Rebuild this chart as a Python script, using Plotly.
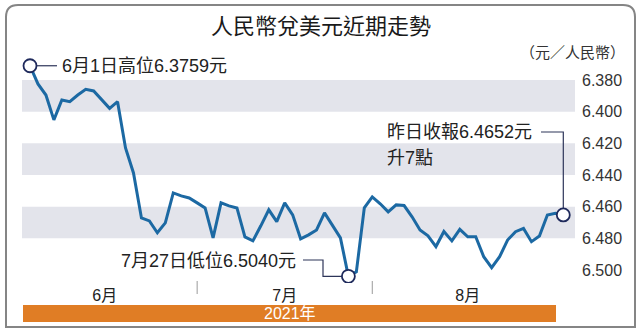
import plotly.graph_objects as go

# ---------------- data ----------------
trade_day = list(range(68))  # trading-day index, 1 Jun 2021 onward
rate = [6.3710, 6.3825, 6.3895, 6.4052, 6.3926, 6.3937, 6.3895, 6.3859, 6.3869, 6.3926,
        6.3979, 6.3937, 6.4229, 6.4387, 6.4671, 6.4690, 6.4765, 6.4702, 6.4513, 6.4532,
        6.4545, 6.4576, 6.4608, 6.4797, 6.4576, 6.4595, 6.4608, 6.4791, 6.4816, 6.4721,
        6.4620, 6.4694, 6.4576, 6.4652, 6.4803, 6.4778, 6.4747, 6.4639, 6.4715, 6.4797,
        6.5040, 6.5012, 6.4608, 6.4538, 6.4582, 6.4633, 6.4589, 6.4593, 6.4664, 6.4747,
        6.4784, 6.4852, 6.4757, 6.4816, 6.4743, 6.4790, 6.4790, 6.4916, 6.4985, 6.4916,
        6.4811, 6.4758, 6.4737, 6.4821, 6.4785, 6.4653, 6.4642, 6.4652]
month_labels = ["6月", "7月", "8月"]
month_start_day = [0, 21, 43]
month_label_pos = [9.4, 32.0, 55.0]
y_ticks = [6.380, 6.400, 6.420, 6.440, 6.460, 6.480, 6.500]
band_pairs = [(6.380, 6.400), (6.420, 6.440), (6.460, 6.480)]
year_label = "2021年"
title_text = "人民幣兌美元近期走勢"
unit_text = "（元／人民幣）"
hi_text = "6月1日高位6.3759元"
lo_text = "7月27日低位6.5040元"
last_text1 = "昨日收報6.4652元"
last_text2 = "升7點"

# ---------------- layout geometry ----------------
W, H = 641, 333
L, R, T, B = 22, 575, 40, 283
XR = [-1.005, 68.47]
YR_TOP, YR_BOT = 6.35474, 6.50821

def px(p):
    return (p - L) / (R - L)

def py(p):
    return (B - p) / (B - T)

def xval(p):
    return XR[0] + (p - L) / (R - L) * (XR[1] - XR[0])

def yval(p):
    return YR_TOP + (p - T) / (B - T) * (YR_BOT - YR_TOP)

CJK = "Liberation Sans, Noto Sans CJK TC, sans-serif"
LINE_C = "#1c69a3"
NAVY = "#1f2a5c"
ORANGE = "#e07d25"

i_min = rate.index(max(rate))
i_first, i_last = 0, len(rate) - 1

fig = go.Figure()
fig.add_trace(go.Scatter(x=trade_day, y=rate, mode="lines",
                         line=dict(color=LINE_C, width=3), hoverinfo="skip"))
fig.add_trace(go.Scatter(x=[trade_day[i] for i in (i_first, i_min, i_last)],
                         y=[rate[i] for i in (i_first, i_min, i_last)],
                         mode="markers",
                         marker=dict(size=13, color="white", line=dict(color=NAVY, width=1.8)),
                         hoverinfo="skip"))

shapes = []
for lo, hi in band_pairs:
    shapes.append(dict(type="rect", xref="paper", yref="y", x0=0, x1=1, y0=lo, y1=hi,
                       fillcolor="#e3e4eb", line=dict(width=0), layer="below"))
# connectors
cl = dict(color="#2d3559", width=1.2)
shapes.append(dict(type="line", xref="x", yref="y", x0=trade_day[i_first], y0=rate[i_first],
                   x1=xval(57), y1=rate[i_first], line=cl, layer="below"))
shapes.append(dict(type="path", xref="x", yref="y", layer="below", line=cl,
                   path=f"M {xval(303)} {yval(260)} L {xval(323)} {yval(260)} "
                        f"L {xval(323)} {rate[i_min]} L {trade_day[i_min]} {rate[i_min]}"))
shapes.append(dict(type="path", xref="x", yref="y", layer="below", line=cl,
                   path=f"M {xval(541)} {yval(132)} L {trade_day[i_last]} {yval(132)} "
                        f"L {trade_day[i_last]} {rate[i_last]}"))
# month separators
for d in month_start_day[1:]:
    shapes.append(dict(type="line", xref="x", yref="paper", x0=d, x1=d,
                       y0=py(281), y1=py(294), line=dict(color="#9a9a9a", width=1)))
# orange year bar
shapes.append(dict(type="rect", xref="paper", yref="paper", x0=px(23), x1=px(556),
                   y0=py(322), y1=py(305), fillcolor=ORANGE, line=dict(width=0)))
# outer border with rounded top corners
r = 12
x0, x1, y0, y1 = 6, 635, 5, 327
path = (f"M {px(x0)} {py(y1)} L {px(x0)} {py(y0 + r)} Q {px(x0)} {py(y0)} {px(x0 + r)} {py(y0)} "
        f"L {px(x1 - r)} {py(y0)} Q {px(x1)} {py(y0)} {px(x1)} {py(y0 + r)} "
        f"L {px(x1)} {py(y1)} Z")
shapes.append(dict(type="path", xref="paper", yref="paper", path=path,
                   line=dict(color="#858585", width=2)))

ann = []
ann.append(dict(text=title_text, xref="paper", yref="paper", x=px(321), y=py(27),
                xanchor="center", yanchor="middle", showarrow=False,
                font=dict(family=CJK, size=22, color="#1a1a1a")))
ann.append(dict(text=unit_text, xref="paper", yref="paper", x=px(627), y=py(52),
                xanchor="right", yanchor="middle", showarrow=False,
                font=dict(family=CJK, size=15, color="#333")))
ann.append(dict(text=hi_text, xref="paper", yref="y", x=px(60), y=rate[i_first],
                xanchor="left", yanchor="middle", showarrow=False,
                font=dict(family=CJK, size=18, color="#222")))
ann.append(dict(text=lo_text, xref="paper", yref="paper", x=px(298), y=py(261),
                xanchor="right", yanchor="middle", showarrow=False,
                font=dict(family=CJK, size=18, color="#222")))
ann.append(dict(text=last_text1, xref="paper", yref="paper", x=px(385), y=py(132),
                xanchor="left", yanchor="middle", showarrow=False,
                font=dict(family=CJK, size=18, color="#222")))
ann.append(dict(text=last_text2, xref="paper", yref="paper", x=px(385), y=py(158),
                xanchor="left", yanchor="middle", showarrow=False,
                font=dict(family=CJK, size=18, color="#222")))
ann.append(dict(text=year_label, xref="paper", yref="paper", x=px(289.5), y=py(313.5),
                xanchor="center", yanchor="middle", showarrow=False,
                font=dict(family=CJK, size=16, color="white")))

fig.update_layout(
    width=W, height=H,
    margin=dict(l=L, r=W - R, t=T, b=H - B),
    paper_bgcolor="white", plot_bgcolor="white",
    showlegend=False,
    shapes=shapes, annotations=ann,
    xaxis=dict(range=XR, showgrid=False, zeroline=False, showline=False,
               tickmode="array", tickvals=month_label_pos, ticktext=month_labels,
               ticks="", ticklabelstandoff=1,
               tickfont=dict(family=CJK, size=16, color="#222")),
    yaxis=dict(range=[YR_BOT, YR_TOP], side="right", showgrid=False, zeroline=False,
               showline=False, tickmode="array", tickvals=y_ticks,
               ticktext=[f"{v:.3f}" for v in y_ticks], ticks="", ticklabelstandoff=6,
               tickfont=dict(family="Liberation Sans, Arial, sans-serif", size=16, color="#333")),
)

fig.write_html("out.html")
